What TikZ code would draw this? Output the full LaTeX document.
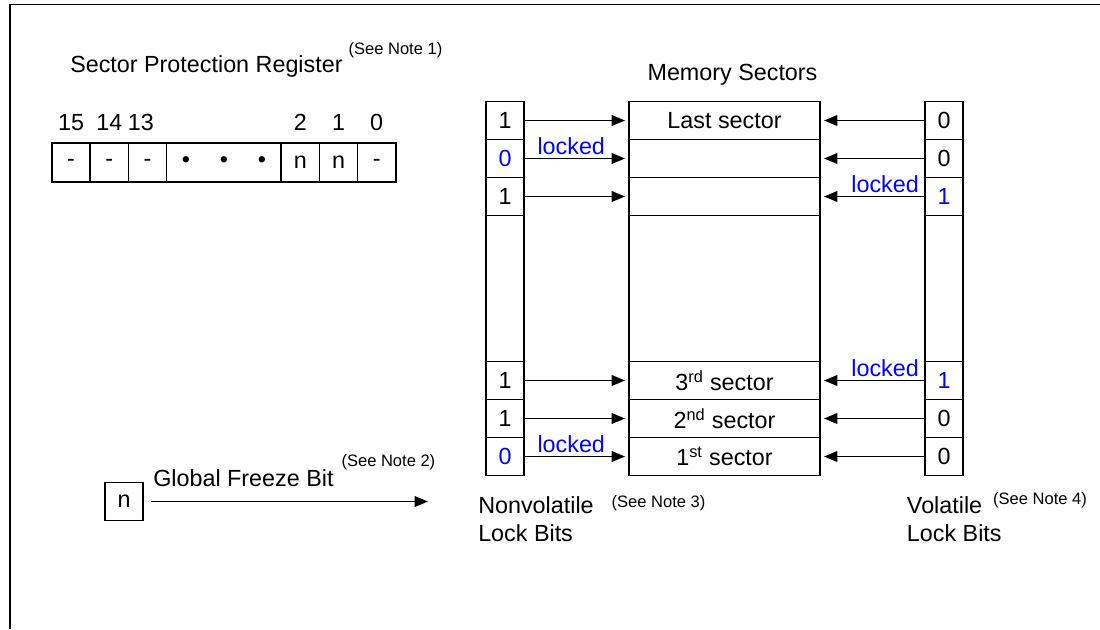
\documentclass[tikz,border=0pt]{standalone}
\usepackage{fontspec}
\setmainfont{Liberation Sans}
\definecolor{lockBlue}{HTML}{0000FF}
\usetikzlibrary{arrows.meta, positioning}
\newcommand\mainsize{\fontsize{17.5pt}{21.5pt}\selectfont}
\newcommand\notesize{\fontsize{12.4pt}{14pt}\selectfont}
\newcommand\seenote[2]{\raisebox{#1}{\notesize (See Note #2)}}

\begin{document}
\begin{tikzpicture}[
    x=0.75pt, y=-0.75pt,
    font=\mainsize,
    cell/.style={
      draw,
      line width=1.1pt,
      outer sep=0pt,
      inner sep=0pt,
      minimum width=28.5pt,
      minimum height=28.5pt,
    },
    tallcell/.style={cell, minimum height=109.5pt},
    sector/.style={cell, minimum width=143.25pt},
    tallsector/.style={sector, minimum height=109.5pt},
    regcell/.style={cell, minimum width=28.65pt, minimum height=29.25pt},
    blue bit/.style={text=lockBlue},
    arr/.style={-{Triangle[length=10pt, width=8pt]}, line width=1.1pt, shorten >=3pt},
    lock/.style={above, text=lockBlue, inner sep=2.5pt},
    lbl/.style={inner sep=0pt, align=left},
  ]
    \useasboundingbox (0,0) rectangle (1100,629);
    \draw[line width=1.1pt] (10,629) |- (1100,4.5);

    % sector protection register
    \node[lbl, anchor=base west] (sprtitle) at (70,72)
      {Sector Protection Register\hspace{4.5pt}\seenote{13.5pt}{1}};

    \node[regcell, anchor=north west] (r15) at (52,143) {-};
    \node[regcell, right=0pt of r15] (r14) {-};
    \node[regcell, right=0pt of r14] (r13) {-};
    \node[regcell, right=0pt of r13, minimum width=85.95pt] (rdots)
      {•\hspace{22.4pt}•\hspace{22.4pt}•};
    \node[regcell, right=0pt of rdots] (r2) {n};
    \node[regcell, right=0pt of r2] (r1) {n};
    \node[regcell, right=0pt of r1] (r0) {-};

    \node[anchor=base] (n15) at ([yshift=9.75pt]r15.north) {15};
    \node[anchor=base] (n14) at ([yshift=9.75pt]r14.north) {14};
    \node[anchor=base] (n13) at ([xshift=-5pt, yshift=9.75pt]r13.north) {13};
    \node[anchor=base] (n2) at ([yshift=9.75pt]r2.north) {2};
    \node[anchor=base] (n1) at ([yshift=9.75pt]r1.north) {1};
    \node[anchor=base] (n0) at ([yshift=9.75pt]r0.north) {0};

    % nonvolatile lock bits
    \node[cell, anchor=north west] (nv1) at (486,101.5) {1};
    \node[cell, blue bit, below=0pt of nv1] (nv2) {0};
    \node[cell, below=0pt of nv2] (nv3) {1};
    \node[tallcell, below=0pt of nv3] (nv4) {};
    \node[cell, below=0pt of nv4] (nv5) {1};
    \node[cell, below=0pt of nv5] (nv6) {1};
    \node[cell, blue bit, below=0pt of nv6] (nv7) {0};

    % memory sectors
    \node[sector, right=78.75pt of nv1] (ms1) {Last sector};
    \node[sector, below=0pt of ms1] (ms2) {};
    \node[sector, below=0pt of ms2] (ms3) {};
    \node[tallsector, below=0pt of ms3] (ms4) {};
    \node[sector, below=0pt of ms4] (ms5) {3\textsuperscript{rd} sector};
    \node[sector, below=0pt of ms5] (ms6) {2\textsuperscript{nd} sector};
    \node[sector, below=0pt of ms6] (ms7) {1\textsuperscript{st} sector};

    \node[anchor=base] (mstitle) at ([xshift=6pt, yshift=16.1pt]ms1.north) {Memory Sectors};

    % volatile lock bits
    \node[cell, right=78.75pt of ms1] (vl1) {0};
    \node[cell, below=0pt of vl1] (vl2) {0};
    \node[cell, blue bit, below=0pt of vl2] (vl3) {1};
    \node[tallcell, below=0pt of vl3] (vl4) {};
    \node[cell, blue bit, below=0pt of vl4] (vl5) {1};
    \node[cell, below=0pt of vl5] (vl6) {0};
    \node[cell, below=0pt of vl6] (vl7) {0};

    \draw[arr] (nv1) -- (ms1);
    \draw[arr] (nv2) -- node[lock, pos=0.45] {locked} (ms2);
    \draw[arr] (nv3) -- (ms3);
    \draw[arr] (nv5) -- (ms5);
    \draw[arr] (nv6) -- (ms6);
    \draw[arr] (nv7) -- node[lock, pos=0.45] {locked} (ms7);

    \draw[arr] (vl1) -- (ms1);
    \draw[arr] (vl2) -- (ms2);
    \draw[arr] (vl3) -- node[lock, pos=0.38] {locked} (ms3);
    \draw[arr] (vl5) -- node[lock, pos=0.38] {locked} (ms5);
    \draw[arr] (vl6) -- (ms6);
    \draw[arr] (vl7) -- (ms7);

    \node[lbl, anchor=base west] (nvlabel) at (478,541.7)
      {Nonvolatile\hspace{13.5pt}\seenote{4.5pt}{3}\\Lock Bits};
    \node[lbl, anchor=base west] (vllabel) at (906.7,541.7)
      {Volatile\hspace{8.25pt}\seenote{6.75pt}{4}\\Lock Bits};

    % global freeze bit
    \node[cell, anchor=north west] (gfb) at (105,482.5) {n};
    \coordinate (gfbend) at (428,501.5);
    \draw[arr, shorten >=0pt, shorten <=6pt] (gfb) -- (gfbend);
    \node[lbl, anchor=base west] (gfblabel) at (153,486.7)
      {Global Freeze Bit\hspace{6pt}\seenote{14.8pt}{2}};
  \end{tikzpicture}
\end{document}
